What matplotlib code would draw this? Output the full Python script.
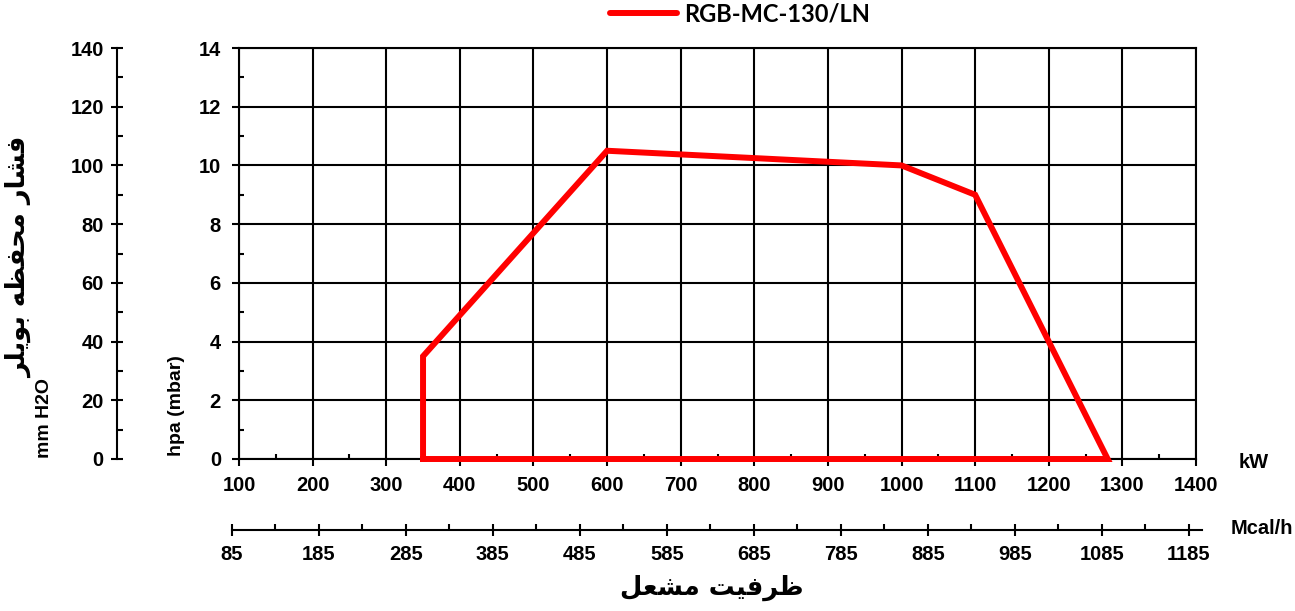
import matplotlib
matplotlib.use('Agg')
import matplotlib.pyplot as plt
from matplotlib.ticker import MultipleLocator

# ---- data ----
kw = [350, 350, 600, 1000, 1100, 1280, 350]
hpa = [0, 3.5, 10.5, 10, 9, 0, 0]
series_name = 'RGB-MC-130/LN'
kw_ticks = list(range(100, 1401, 100))
hpa_ticks = list(range(0, 15, 2))
mmh2o_ticks = list(range(0, 141, 20))
mcal_ticks = list(range(85, 1186, 100))

# Persian labels, shaped with Arabic presentation forms (logical order), reversed for display
y_title_forms = ['\uFED3', '\uFEB8', '\uFE8E', '\uFEAD', ' ',
                 '\uFEE3', '\uFEA4', '\uFED4', '\uFEC8', '\uFEEA', ' ',
                 '\uFE91', '\uFEEE', '\uFBFE', '\uFEE0', '\uFEAE']   # فشار محفظه بویلر
x_title_forms = ['\uFEC7', '\uFEAE', '\uFED3', '\uFBFF', '\uFE96', ' ',
                 '\uFEE3', '\uFEB8', '\uFECC', '\uFEDE']              # ظرفیت مشعل


def visual(forms):
    return ''.join(reversed(forms))


W, H = 1295, 611
fig = plt.figure(figsize=(W / 100, H / 100), dpi=100)


def rect(l, r, t, b):
    return [l / W, 1 - b / H, (r - l) / W, (b - t) / H]


TF = dict(family='Liberation Sans', weight='bold')
TS = 14.5
LW = 1.5
RED = '#ff0000'
FP = matplotlib.font_manager.FontProperties(size=TS, **TF)

# ---- main axes ----
ax = fig.add_axes(rect(239, 1196, 48, 459))
ax.plot(kw, hpa, color=RED, lw=4.3, solid_joinstyle='miter', zorder=5,
        clip_on=False, label=series_name)
ax.set_xlim(100, 1400)
ax.set_ylim(0, 14)
ax.set_xticks(kw_ticks)
ax.set_yticks(hpa_ticks)
ax.xaxis.set_minor_locator(MultipleLocator(50))
ax.yaxis.set_minor_locator(MultipleLocator(1))
ax.grid(True, which='major', color='black', lw=LW)
ax.set_axisbelow(True)
ax.tick_params(which='major', direction='out', length=5, width=LW, pad=8)
ax.tick_params(which='minor', direction='in', length=3.5, width=LW)
ax.tick_params(axis='x', which='major', pad=7)
for s in ax.spines.values():
    s.set_linewidth(LW)
for lab in ax.get_xticklabels() + ax.get_yticklabels():
    lab.set_fontproperties(FP)

# ---- secondary left axis (mm H2O) ----
ay = fig.add_axes(rect(117, 118, 48, 459))
ay.set_ylim(0, 140)
ay.set_yticks(mmh2o_ticks)
ay.yaxis.set_minor_locator(MultipleLocator(10))
ay.set_xticks([])
for k in ['top', 'right', 'bottom']:
    ay.spines[k].set_visible(False)
ay.spines['left'].set_linewidth(LW)
ay.patch.set_alpha(0)
ay.tick_params(axis='y', which='major', direction='inout', length=9, width=LW, pad=5)
ay.tick_params(axis='y', which='minor', direction='in', length=4, width=LW)
for lab in ay.get_yticklabels():
    lab.set_fontproperties(FP)

# ---- secondary bottom axis (Mcal/h) ----
axm = fig.add_axes(rect(231.7, 1202, 529, 530))
axm.set_xlim(85, 1200)
axm.set_xticks(mcal_ticks)
axm.xaxis.set_minor_locator(MultipleLocator(100, offset=35))
axm.set_yticks([])
for k in ['top', 'right', 'left']:
    axm.spines[k].set_visible(False)
axm.spines['bottom'].set_linewidth(LW)
axm.patch.set_alpha(0)
axm.tick_params(axis='x', which='major', direction='inout', length=9, width=LW, pad=6)
axm.tick_params(axis='x', which='minor', direction='in', length=4, width=LW)
for lab in axm.get_xticklabels():
    lab.set_fontproperties(FP)

# ---- unit labels ----
fig.text(1254 / W, 1 - 462 / H, 'kW', ha='center', va='center', size=TS, **TF)
fig.text(1262 / W, 1 - 528 / H, 'Mcal/h', ha='center', va='center', size=TS, **TF)
fig.text(44 / W, 1 - 418 / H, 'mm H2O', ha='center', va='center', rotation=90, size=14, **TF)
fig.text(176 / W, 1 - 406 / H, 'hpa (mbar)', ha='center', va='center', rotation=90, size=14, **TF)

# ---- Persian titles ----
fig.text(19 / W, 1 - 257 / H, visual(y_title_forms), ha='center', va='center', rotation=90,
         size=18.5, family=['DejaVu Sans'], weight='bold')
fig.text(712 / W, 1 - 588 / H, visual(x_title_forms), ha='center', va='center',
         size=18.5, family=['DejaVu Sans'], weight='bold')

# ---- legend ----
leg = fig.legend(loc='center', bbox_to_anchor=(740 / W, 1 - 14 / H), frameon=False,
                 handlelength=2.8, handletextpad=0.3, borderpad=0,
                 prop=dict(family='Lato', weight='bold', size=17))
for h in leg.legend_handles:
    h.set_solid_capstyle('round')

fig.savefig('out.png', dpi=100)
